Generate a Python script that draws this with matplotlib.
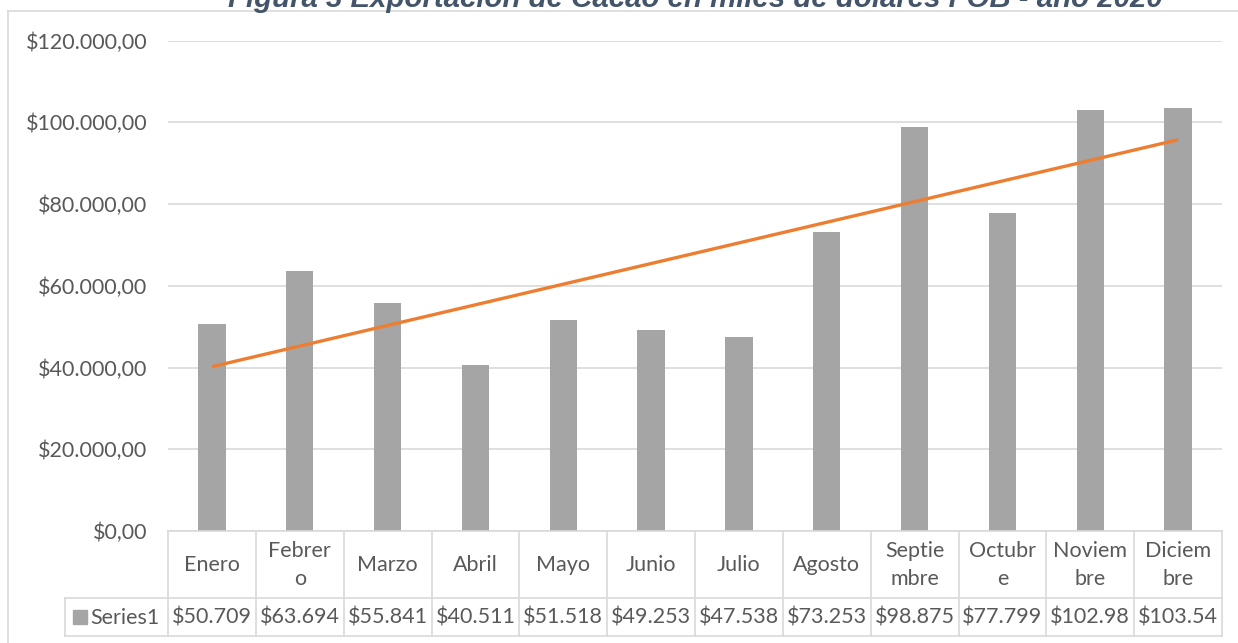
import numpy as np
import matplotlib.pyplot as plt
from matplotlib.lines import Line2D
from matplotlib.patches import Rectangle
from matplotlib.transforms import blended_transform_factory

# datos
meses = ['Enero', 'Febrer\no', 'Marzo', 'Abril', 'Mayo', 'Junio', 'Julio',
         'Agosto', 'Septie\nmbre', 'Octubr\ne', 'Noviem\nbre', 'Diciem\nbre']
valores = [50709, 63694, 55841, 40511, 51518, 49253, 47538,
           73253, 98875, 77799, 102980, 103540]
etiquetas = ['$50.709', '$63.694', '$55.841', '$40.511', '$51.518', '$49.253',
             '$47.538', '$73.253', '$98.875', '$77.799', '$102.98', '$103.54']
serie = 'Series1'
titulo = 'Figura 3 Exportación de Cacao en miles de dólares FOB - año 2020'
yticks = [0, 20000, 40000, 60000, 80000, 100000, 120000]

W, H = 1238, 643
GRIS = '#D9D9D9'
TXT = '#595959'
FUENTE = 'Lato'
FS = 15.5


def fx(x):
    return x / W


def fy(y):
    return 1 - y / H


def fmt(v):
    s = '{:,.2f}'.format(v)
    return '$' + s.replace(',', 'X').replace('.', ',').replace('X', '.')


fig = plt.figure(figsize=(W / 100, H / 100), dpi=100)

# marco del grafico
fig.add_artist(Line2D([fx(8), fx(1238)], [fy(11), fy(11)], color=GRIS, lw=1.2))
fig.add_artist(Line2D([fx(8), fx(8)], [fy(11), fy(643)], color=GRIS, lw=1.2))

# titulo (cortado arriba, como en el original)
fig.text(fx(695.5), fy(7), titulo, ha='center', va='baseline', fontsize=21.2,
         fontweight='bold', fontstyle='italic', color='#44546A',
         family='Liberation Sans')

x0, x1, ytop, ybot = 168, 1222, 40.5, 531
ax = fig.add_axes([fx(x0), fy(ybot), (x1 - x0) / W, (ybot - ytop) / H])
x = np.arange(len(valores))
ax.bar(x, valores, width=0.31, color='#A5A5A5', zorder=2)

# linea de tendencia lineal
m, b = np.polyfit(x, valores, 1)
ax.plot(x[[0, -1]], m * x[[0, -1]] + b, color='#ED7D31', lw=2.4,
        solid_capstyle='butt', zorder=3)

ax.set_xlim(-0.5, len(valores) - 0.5)
ax.set_ylim(0, 120000)
ax.set_yticks(yticks)
ax.set_yticklabels([fmt(v) for v in yticks], fontsize=FS, color=TXT, family=FUENTE)
ax.set_xticks([])
ax.tick_params(axis='y', length=0, pad=15)
ax.yaxis.grid(True, color=GRIS, lw=1.2, zorder=0)
for s in ax.spines.values():
    s.set_visible(False)

# tabla de datos
col = (x1 - x0) / len(valores)
r1, r2 = 598, 636
lin = dict(color=GRIS, lw=1.2)
fig.add_artist(Line2D([fx(x0), fx(x1)], [fy(ybot), fy(ybot)], **lin))
fig.add_artist(Line2D([fx(65), fx(x1)], [fy(r1), fy(r1)], **lin))
fig.add_artist(Line2D([fx(65), fx(x1)], [fy(r2), fy(r2)], **lin))
fig.add_artist(Line2D([fx(65), fx(65)], [fy(r1), fy(r2)], **lin))
for k in range(len(valores) + 1):
    xx = x0 + k * col
    fig.add_artist(Line2D([fx(xx), fx(xx)], [fy(ybot), fy(r2)], **lin))

tr = blended_transform_factory(ax.transData, fig.transFigure)
for i, (mes, et) in enumerate(zip(meses, etiquetas)):
    ax.text(i, fy((ybot + r1) / 2 + 0.5), mes, transform=tr, ha='center', va='center',
            fontsize=FS, color=TXT, family=FUENTE, linespacing=1.5, clip_on=False)
    ax.text(i, fy((r1 + r2) / 2 + 1), et, transform=tr, ha='center', va='center',
            fontsize=FS, color=TXT, family=FUENTE, clip_on=False)

fig.add_artist(Rectangle((fx(73), fy(624)), fx(14), 14 / H, color='#A5A5A5'))
fig.text(fx(90), fy(618), serie, ha='left', va='center', fontsize=FS,
         color=TXT, family=FUENTE)

fig.savefig('out.png', dpi=100)
